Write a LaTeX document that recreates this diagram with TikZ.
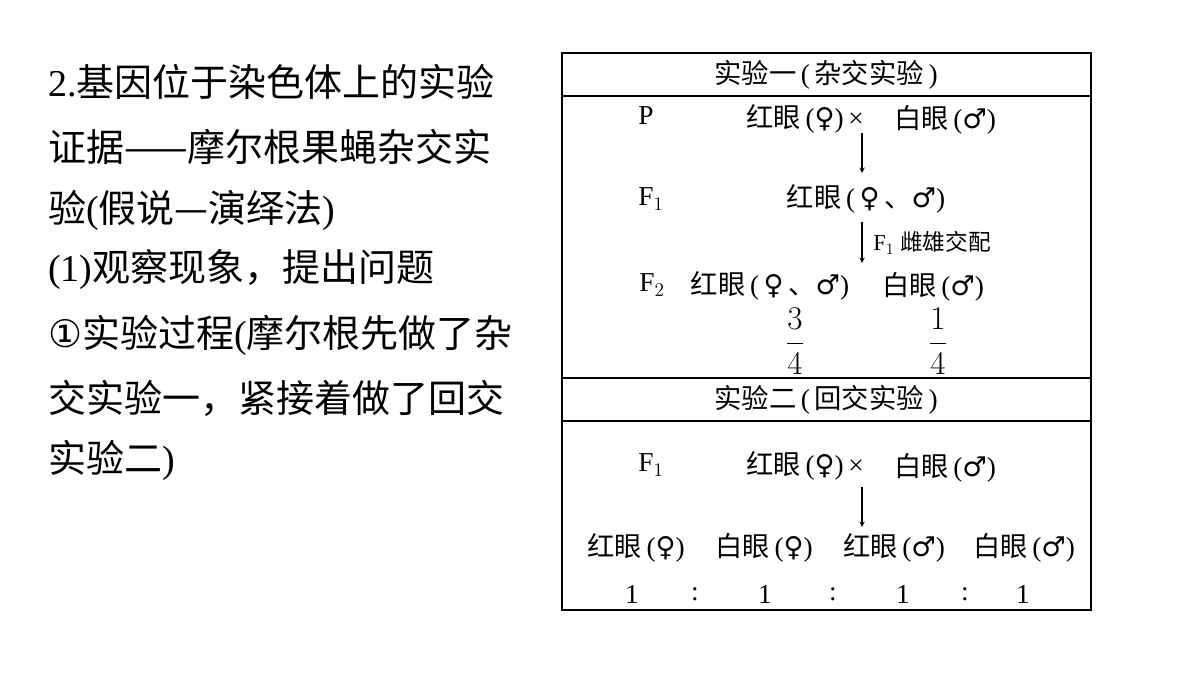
\documentclass[tikz,border=0pt]{standalone}
\usepackage{amsmath}
\usepackage{fontspec}
\setmainfont{Liberation Serif}
\newfontfamily\zhf{Noto Sans CJK SC}
\newfontfamily\symf{DejaVu Sans}
\newcommand{\zh}[1]{{\zhf #1}}
\newcommand{\fe}{{\symf\char"2640}}
\newcommand{\ma}{{\symf\char"2642}}
\begin{document}
\begin{tikzpicture}[x=0.75pt,y=-0.75pt,
  lt/.style={anchor=west,inner sep=0pt,font=\fontsize{28.5}{32}\selectfont},
  tt/.style={inner sep=0pt,font=\fontsize{20.5}{24}\selectfont},
  arr/.style={-stealth,line width=0.8pt}]
\useasboundingbox (0,0) rectangle (1200,675);
\fill[white] (0,0) rectangle (1200,675);
% left text
\node[lt] (l1) at (48,82) {2.\zh{基因位于染色体上的实验}};
\node[lt] (l2) at (48,147) {\zh{证据——摩尔根果蝇杂交实}};
\node[lt] (l3) at (48,210) {\zh{验}(\zh{假说—演绎法})};
\node[lt] (l4) at (48,270) {(1)\zh{观察现象，提出问题}};
\node[lt] (l5) at (48,335) {{\symf ①}\zh{实验过程}(\zh{摩尔根先做了杂}};
\node[lt] (l6) at (48,398) {\zh{交实验一，紧接着做了回交}};
\node[lt] (l7) at (48,460) {\zh{实验二})};
% table
\draw[line width=0.9pt] (562,53) rectangle (1091,610);
\draw[line width=0.9pt] (562,96) -- (1091,96);
\draw[line width=0.9pt] (562,378) -- (1091,378);
\draw[line width=0.9pt] (562,421) -- (1091,421);
\node[tt] (h1) at (826,75) {\zh{实验一}\,(\,\zh{杂交实验}\,)};
\node[tt] (h2) at (826,400) {\zh{实验二}\,(\,\zh{回交实验}\,)};
\node[tt] (p) at (646,116) {P};
\node[tt] (pa) at (805,119) {\zh{红眼}\,(\fe)\,×};
\node[tt] (pb) at (945,120) {\zh{白眼}\,(\ma)};
\node[tt] (f1) at (651,199) {F$_1$};
\node[tt] (f1a) at (866,199) {\zh{红眼}\,(\,\fe\,\zh{、}\ma)};
\node[tt] (f2) at (652,285) {F$_2$};
\node[tt] (f2a) at (770,286) {\zh{红眼}\,(\,\fe\,\zh{、}\ma)};
\node[tt] (f2b) at (933,287) {\zh{白眼}\,(\ma)};
\node[tt,font=\fontsize{26}{30}\selectfont] (r1) at (795,341) {$\dfrac{3}{4}$};
\node[tt,font=\fontsize{26}{30}\selectfont] (r2) at (938,341) {$\dfrac{1}{4}$};
\coordinate (a1s) at (862,133); \coordinate (a1e) at (862,173);
\draw[arr] (a1s) -- (a1e);
\coordinate (a2s) at (862,222); \coordinate (a2e) at (862,263);
\draw[arr] (a2s) -- (a2e);
\node[tt,anchor=west,font=\fontsize{17}{20}\selectfont] (lab) at (873,243) {F$_1$ \zh{雌雄交配}};
\node[tt] (g1) at (651,465) {F$_1$};
\node[tt] (ga) at (805,466) {\zh{红眼}\,(\fe)\,×};
\node[tt] (gb) at (945,468) {\zh{白眼}\,(\ma)};
\coordinate (a3s) at (862,487); \coordinate (a3e) at (862,527);
\draw[arr] (a3s) -- (a3e);
\node[tt] (o1) at (636,548) {\zh{红眼}\,(\fe)};
\node[tt] (o2) at (764,548) {\zh{白眼}\,(\fe)};
\node[tt] (o3) at (894,548) {\zh{红眼}\,(\ma)};
\node[tt] (o4) at (1024,548) {\zh{白眼}\,(\ma)};
\node[tt] (n1) at (632,594) {1};
\node[tt] (c1) at (695,594) {:};
\node[tt] (n2) at (765,594) {1};
\node[tt] (c2) at (833,594) {:};
\node[tt] (n3) at (903,594) {1};
\node[tt] (c3) at (965,594) {:};
\node[tt] (n4) at (1023,594) {1};
\end{tikzpicture}
\end{document}
